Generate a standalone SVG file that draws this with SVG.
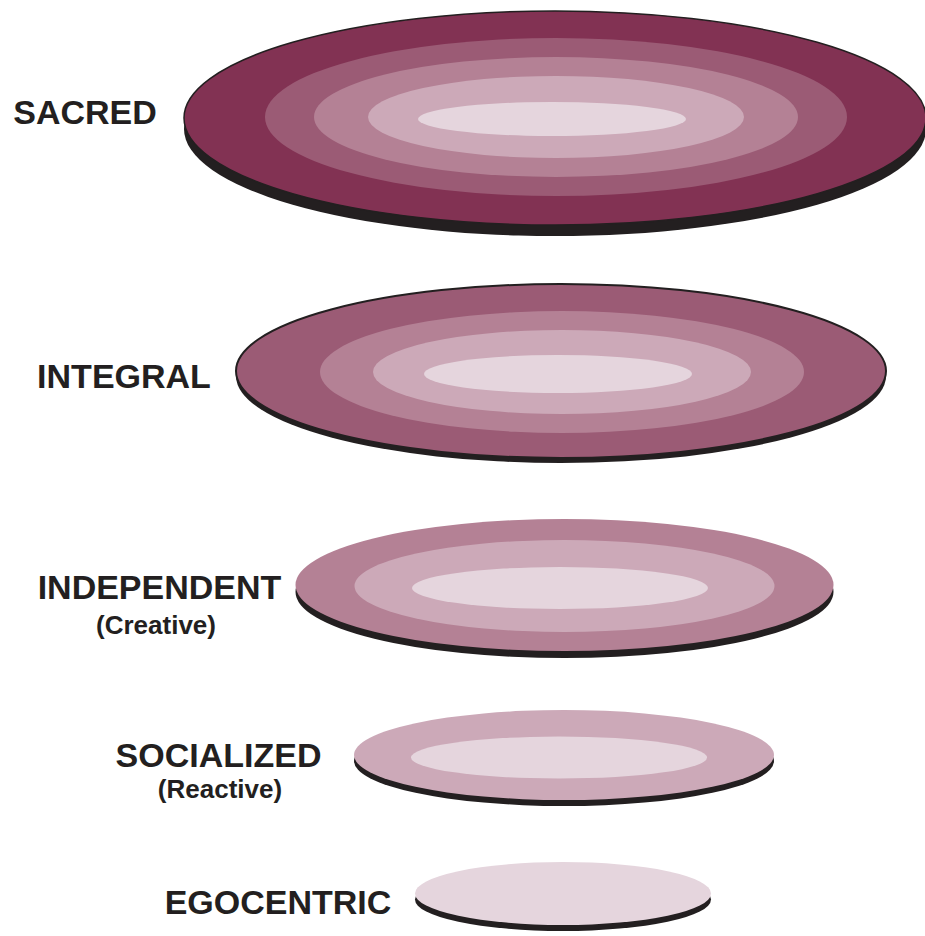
<svg xmlns="http://www.w3.org/2000/svg" width="925" height="936" viewBox="0 0 925 936">
<style>
.lbl{font-family:"Liberation Sans",Arial,sans-serif;font-weight:bold;fill:#231f20;text-anchor:middle}
.big{font-size:34px}
.sub{font-size:26px}
.sh{fill:#231f20}
.c1{fill:#823253}
.c2{fill:#9b5b75}
.c3{fill:#b48195}
.c4{fill:#cca9b8}
.c5{fill:#e5d5dd}
</style>
<rect width="925" height="936" fill="#ffffff"/>
<g id="sacred">
<ellipse class="sh" cx="555" cy="129" rx="371" ry="107"/>
<ellipse class="c1" cx="555" cy="118" rx="371" ry="107" stroke="#231f20" stroke-width="1.5"/>
<ellipse class="c2" cx="556" cy="117" rx="291" ry="79"/>
<ellipse class="c3" cx="556" cy="117" rx="242" ry="60"/>
<ellipse class="c4" cx="556" cy="117" rx="188" ry="41"/>
<ellipse class="c5" cx="552" cy="119" rx="134" ry="17"/>
<text class="lbl big" x="85" y="124">SACRED</text>
</g>
<g id="integral">
<ellipse class="sh" cx="561" cy="376" rx="325" ry="87"/>
<ellipse class="c2" cx="561" cy="371" rx="325" ry="87" stroke="#231f20" stroke-width="2"/>
<ellipse class="c3" cx="562" cy="372" rx="242" ry="61"/>
<ellipse class="c4" cx="562" cy="372" rx="189" ry="42"/>
<ellipse class="c5" cx="558" cy="374" rx="134" ry="19"/>
<text class="lbl big" x="124" y="388">INTEGRAL</text>
</g>
<g id="independent">
<ellipse class="sh" cx="564.5" cy="592" rx="269" ry="66"/>
<ellipse class="c3" cx="564.5" cy="585" rx="269" ry="66"/>
<ellipse class="c4" cx="564.5" cy="586" rx="210" ry="46"/>
<ellipse class="c5" cx="560" cy="588" rx="148" ry="21"/>
<text class="lbl big" x="159.5" y="599">INDEPENDENT</text>
<text class="lbl sub" x="156" y="634">(Creative)</text>
</g>
<g id="socialized">
<ellipse class="sh" cx="564" cy="761" rx="210" ry="45"/>
<ellipse class="c4" cx="564" cy="755" rx="210" ry="45"/>
<ellipse class="c5" cx="559" cy="757.5" rx="148" ry="21"/>
<text class="lbl big" x="218.5" y="767">SOCIALIZED</text>
<text class="lbl sub" x="220" y="798">(Reactive)</text>
</g>
<g id="egocentric">
<ellipse class="sh" cx="563" cy="899.5" rx="148" ry="31.5"/>
<ellipse class="c5" cx="563" cy="893.5" rx="148" ry="31.5"/>
<text class="lbl big" x="278" y="914">EGOCENTRIC</text>
</g>
<g id="connectors"/>
</svg>
